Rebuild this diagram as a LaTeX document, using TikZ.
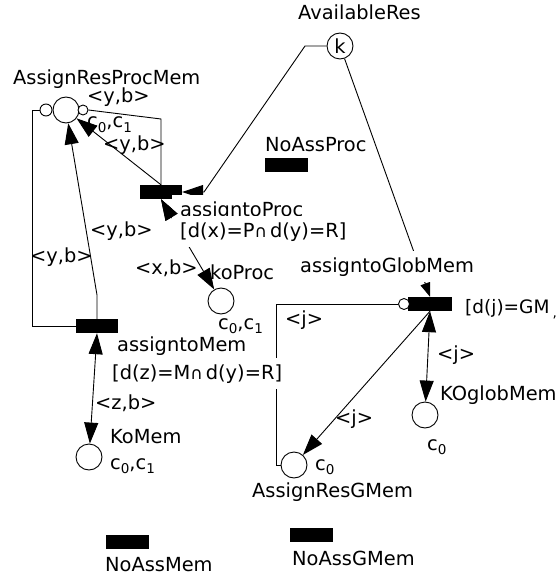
\documentclass[tikz,border=0pt]{standalone}
\usepackage{fontspec}
\setmainfont{DejaVu Sans}
\usetikzlibrary{arrows.meta}
% lowered small digit used for colour indices
\newcommand\lowsub[1]{\raisebox{-0.45ex}{\fontsize{13.5}{13.5}\selectfont #1}}
% intersection sign used in the guards
\newcommand\andsym{{\fontsize{17}{17}\selectfont ∩}\hspace{3pt}}

\begin{document}
\begin{tikzpicture}[x=1pt,y=-1pt,
  font=\fontsize{19.4}{23}\selectfont,
  place/.style={circle,draw,line width=0.9pt,minimum size=26pt,inner sep=0pt},
  inhib/.style={circle,draw,line width=0.9pt,minimum size=11pt,inner sep=0pt,fill=white},
  trans/.style={rectangle,fill=black,minimum width=42pt,minimum height=14pt,inner sep=0pt},
  tip/.tip={Triangle[length=21pt,width=14pt]},
  arc/.style={line width=0.9pt,-tip},
  biarc/.style={line width=0.9pt,tip-tip},
  plain/.style={line width=0.9pt},
  lbl/.style={anchor=base west,inner sep=0pt},
  mask/.style={anchor=base west,fill=white,inner xsep=8pt,inner ysep=6pt}]

\useasboundingbox (0,0) rectangle (556,577);

% places
\node[place] (ar)   at (340,46)  {k};
\node[place] (arpm) at (66,110)  {};
\node[place] (kop)  at (221,301) {};
\node[place] (kom)  at (89,457)  {};
\node[place] (argm) at (294,465) {};
\node[place] (kog)  at (425,415) {};

% transitions
\node[trans] (tP) at (161,192) {};
\node[trans] (tM) at (97,326)  {};
\node[trans,minimum width=44pt] (tG) at (430,304) {};
\node[trans,minimum width=43pt] (nAP) at (286,165) {};
\node[trans,minimum width=43pt] (nAM) at (127,542) {};
\node[trans,minimum width=43pt] (nAG) at (311,535) {};

% inhibitor ends
\node[inhib,minimum size=12pt] (arpmL) at (46,110) {};
\node[inhib,minimum size=10pt] (arpmR) at (83,110) {};
\node[inhib] (tGi) at (404,304) {};

% bend points
\coordinate (bA) at (305,46);
\coordinate (bB) at (204,192);
\coordinate (bC) at (161,119);
\coordinate (bD) at (32,110);
\coordinate (bE) at (32,326);
\coordinate (bF) at (97,295);
\coordinate (bG) at (276,304);
\coordinate (bH) at (276,465);

% arcs
\draw[arc] (ar.west) -- (bA) -- (bB) -- (tP.east);
\draw[line width=0.9pt,-{Triangle[length=14pt,width=10pt]}] (ar) -- (tG.north);
\draw[arc] (tP.north) -- (arpm);
\draw[plain] (tP.north) -- (bC) -- (arpmR.east);
\draw[arc] (tM.north) -- (bF) -- (arpm);
\draw[plain] (tM.west) -- (bE) -- (bD) -- (arpmL.west);
\draw[biarc] (tP.south) -- (kop);
\draw[biarc] (tM.south) -- (kom);
\draw[arc] (tG.south) -- (argm);
\draw[biarc] (tG.south) -- (kog);
\draw[plain] (tGi.west) -- (bG) -- (bH) -- (argm.west);

% labels
\node[lbl] (lArpm) at (13,85) {AssignResProcMem};
\node[lbl] (e1) at (87,103) {<y,b>};
\node[lbl] (cArpm) at (87,128) {c\lowsub{0},c\lowsub{1}};
\node[lbl] (e2) at (103,151) {<y,b>};
\node[mask] (lTP) at (172,216) {assigntoProc};
\node[mask] (gTP) at (172,237) {[d(x)=P\andsym d(y)=R]};
\node[lbl] (e3) at (90,236) {<y,b>};
\node[lbl] (e4) at (30,262) {<y,b>};
\node[lbl] (e5) at (135,274) {<x,b>};
\node[lbl] (lKop) at (210,279) {koProc};
\node[lbl] (cKop) at (218,329) {c\lowsub{0},c\lowsub{1}};
\node[lbl] (lTM) at (117,351) {assigntoMem};
\node[mask] (gTM) at (104,379) {[d(z)=M\andsym d(y)=R]};
\node[lbl] (e6) at (95,409) {<z,b>};
\node[lbl] (lKom) at (110,443) {KoMem};
\node[lbl] (cKom) at (110,469) {c\lowsub{0},c\lowsub{1}};
\node[lbl] (lAr) at (298,20) {AvailableRes};
\node[lbl] (lNAP) at (265,152) {NoAssProc};
\node[mask] (lTG) at (292,272) {assigntoGlobMem};
\node[lbl,font=\fontsize{18.5}{22}\selectfont] (gTG) at (465,313) {[d(j)=GM\,\lowsub{,}]};
\node[lbl] (e7) at (285,325) {<j>};
\node[lbl] (e8) at (437,360) {<j>};
\node[lbl] (lKog) at (440,400) {KOglobMem};
\node[lbl] (cKog) at (427,450) {c\lowsub{0}};
\node[lbl] (e9) at (335,424) {<j>};
\node[lbl] (cArgm) at (315,470) {c\lowsub{0}};
\node[lbl] (lArgm) at (252,497) {AssignResGMem};
\node[lbl] (lNAM) at (105,571) {NoAssMem};
\node[lbl] (lNAG) at (292,565) {NoAssGMem};

% short piece restoring the head that sits on the guard label
\draw[line width=0.9pt,tip-,shorten >=84pt] (tP.south) -- (kop);
\end{tikzpicture}
\end{document}
